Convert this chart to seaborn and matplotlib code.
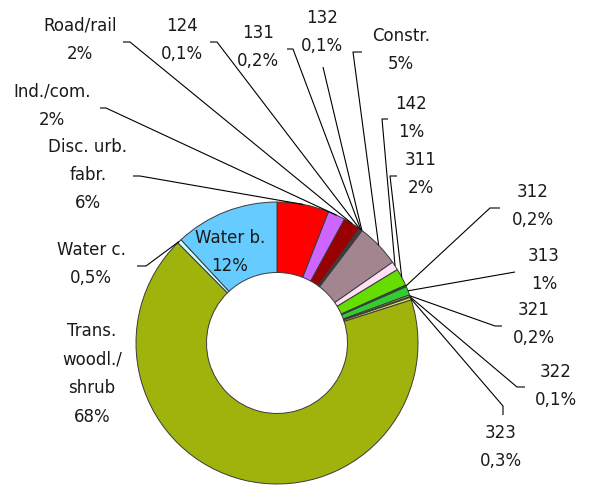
"""
Land cover donut chart: share of each CORINE class, with Excel-style
leader-line labels around the ring.
"""

import numpy as np
import matplotlib
matplotlib.use("Agg")
import matplotlib.pyplot as plt
import seaborn as sns

sns.set_theme(style="white")
plt.rcParams["font.family"] = ["DejaVu Sans"]

W, H = 591, 486  # canvas in pixels, axes use the same units

# --- data (clockwise from 12 o'clock) ---
categories = ["Disc. urb.\nfabr.", "Ind./com.", "Road/rail", "124", "131", "132",
              "Constr.", "142", "311", "312", "313", "321", "322", "323",
              "Trans.\nwoodl./\nshrub", "Water c.", "Water b."]
shares = [6, 2, 2, 0.1, 0.2, 0.1, 5, 1, 2, 0.2, 1, 0.2, 0.1, 0.3, 68, 0.5, 12]
share_labels = ["6%", "2%", "2%", "0,1%", "0,2%", "0,1%", "5%", "1%", "2%", "0,2%",
                "1%", "0,2%", "0,1%", "0,3%", "68%", "0,5%", "12%"]
colors = ["#FF0000", "#CC66FF", "#990000", "#9999FF", "#663366", "#333333",
          "#A3858F", "#FFE0F5", "#66DD00", "#007A00", "#33CC33", "#99CC33",
          "#CCCC33", "#E0E060", "#A0B30D", "#CCFFFF", "#66CCFF"]

# --- label layout, pixel coords from the top-left corner ---
# text centre, then the two ends of the little tick (text side first)
label_xy = [(88, 175), (52, 106), (80, 40), (182, 40), (258, 47), (322, 32),
            (401, 50), (411, 118), (421, 174), (533, 206), (544, 270),
            (534, 324), (556, 386), (501, 447), (92, 374), (91, 264), (230, 252)]
ticks = [((133, 176), (140, 176)), ((100, 108), (106, 108)), ((123, 42), (130, 42)),
         ((210, 42), (217, 42)), ((287, 49), (293, 49)), ((323, 67), (323, 67)),
         ((362, 52), (353, 52)), ((388, 119), (382, 119)), ((397, 176), (390, 176)),
         ((500, 208), (490, 208)), ((515, 272), (515, 272)), ((502, 326), (495, 326)),
         ((525, 387), (517, 387)), ((503, 415), (503, 406)), None,
         ((137, 266), (146, 266)), None]

CENTER_PX = (277, 343)
RADIUS = 141
TEXT_COLOR = "#1a1a1a"


def px(p):
    # pixel (y down) -> axes data (y up)
    return p[0], H - p[1]


fig = plt.figure(figsize=(W / 100, H / 100), dpi=100)
ax = fig.add_axes([0, 0, 1, 1])

wedges, _ = ax.pie(shares, colors=colors, startangle=90, counterclock=False,
                   center=px(CENTER_PX), radius=RADIUS, frame=True,
                   wedgeprops=dict(width=RADIUS * 0.5, edgecolor="#3a3a3a",
                                   linewidth=0.7))
ax.set_xlim(0, W)
ax.set_ylim(0, H)
ax.set_aspect("equal")
ax.axis("off")

for wedge, name, pct, pos, tick in zip(wedges, categories, share_labels,
                                       label_xy, ticks):
    tx, ty = px(pos)
    ax.text(tx, ty, f"{name}\n{pct}", ha="center", va="center", fontsize=12,
            color=TEXT_COLOR, linespacing=1.75)
    if tick is None:
        continue
    # leader starts on the outer rim, at the middle of the slice
    mid = np.deg2rad((wedge.theta1 + wedge.theta2) / 2)
    cx, cy = wedge.center
    ex, ey = cx + wedge.r * np.cos(mid), cy + wedge.r * np.sin(mid)
    ax_, ay_ = px(tick[0])
    bx, by = px(tick[1])
    ax.plot([ex, bx, ax_], [ey, by, ay_], color="black", lw=0.8,
            solid_capstyle="butt", zorder=3)

fig.savefig("out.png", dpi=100)
